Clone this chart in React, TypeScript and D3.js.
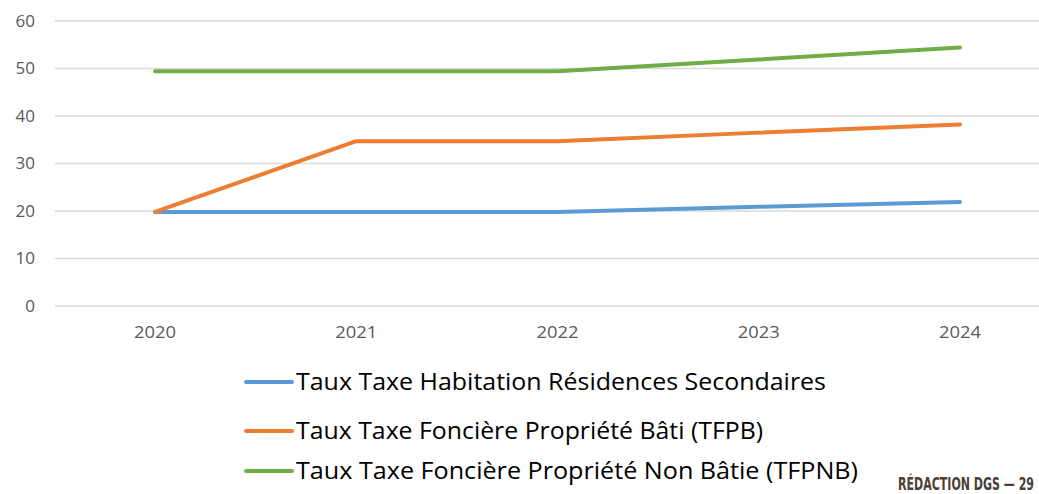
import React from "react";
import * as d3 from "d3";

const years = ["2020", "2021", "2022", "2023", "2024"];
const yTicks = [0, 10, 20, 30, 40, 50, 60];
const seriesNames = [
  "Taux Taxe Habitation Résidences Secondaires",
  "Taux Taxe Foncière Propriété Bâti (TFPB)",
  "Taux Taxe Foncière Propriété Non Bâtie (TFPNB)",
];
const habitation = [19.8, 19.8, 19.8, 20.9, 21.9];
const tfpb = [19.8, 34.7, 34.7, 36.5, 38.2];
const tfpnb = [49.4, 49.4, 49.4, 51.9, 54.4];
const colors = ["#5B9BD5", "#ED7D31", "#70AD47"];
const legendWidths = [530, 467, 562];
const footer = "RÉDACTION DGS — 29";

export default function App() {
  const W = 1039, H = 494;
  const x = d3.scalePoint<string>().domain(years).range([155, 960]);
  const y = d3.scaleLinear().domain([0, 60]).range([306, 21]);
  const line = d3
    .line<number>()
    .x((_, i) => x(years[i]) as number)
    .y((d) => y(d));
  const all = [habitation, tfpb, tfpnb];
  const legendY = [382, 431, 471];
  return (
    <svg
      width={W}
      height={H}
      style={{ position: "absolute", left: 0, top: 0, background: "#fff" }}
      fontFamily="'Open Sans', 'Noto Sans', sans-serif"
    >
      <rect width={W} height={H} fill="#fff" />
      {yTicks.map((t) => (
        <g key={t}>
          <line x1={55} x2={W} y1={y(t)} y2={y(t)} stroke="#d9d9d9" strokeWidth={1.3} />
          <text x={35} y={y(t)} dy="0.35em" textAnchor="end" fontSize={17} fill="#595959">
            {t}
          </text>
        </g>
      ))}
      {years.map((yr) => (
        <text
          key={yr}
          x={x(yr)}
          y={332}
          dy="0.35em"
          textAnchor="middle"
          fontSize={17}
          fill="#595959"
          textLength={42}
          lengthAdjust="spacingAndGlyphs"
        >
          {yr}
        </text>
      ))}
      {all.map((s, i) => (
        <path
          key={i}
          d={line(s) || ""}
          fill="none"
          stroke={colors[i]}
          strokeWidth={4}
          strokeLinecap="round"
          strokeLinejoin="round"
        />
      ))}
      {seriesNames.map((n, i) => (
        <g key={n}>
          <line x1={246} x2={292} y1={legendY[i]} y2={legendY[i]} stroke={colors[i]} strokeWidth={4} strokeLinecap="round" />
          <text
            x={296}
            y={legendY[i]}
            dy="0.35em"
            fontSize={24}
            fill="#000"
            textLength={legendWidths[i]}
            lengthAdjust="spacingAndGlyphs"
          >
            {n}
          </text>
        </g>
      ))}
      <text
        x={898}
        y={490}
        fontSize={17}
        fontWeight={600}
        fill="#4a4036"
        textLength={136}
        lengthAdjust="spacingAndGlyphs"
        fontFamily="'DejaVu Sans Condensed', 'Liberation Sans Narrow', 'Roboto', sans-serif"
      >
        {footer}
      </text>
    </svg>
  );
}
